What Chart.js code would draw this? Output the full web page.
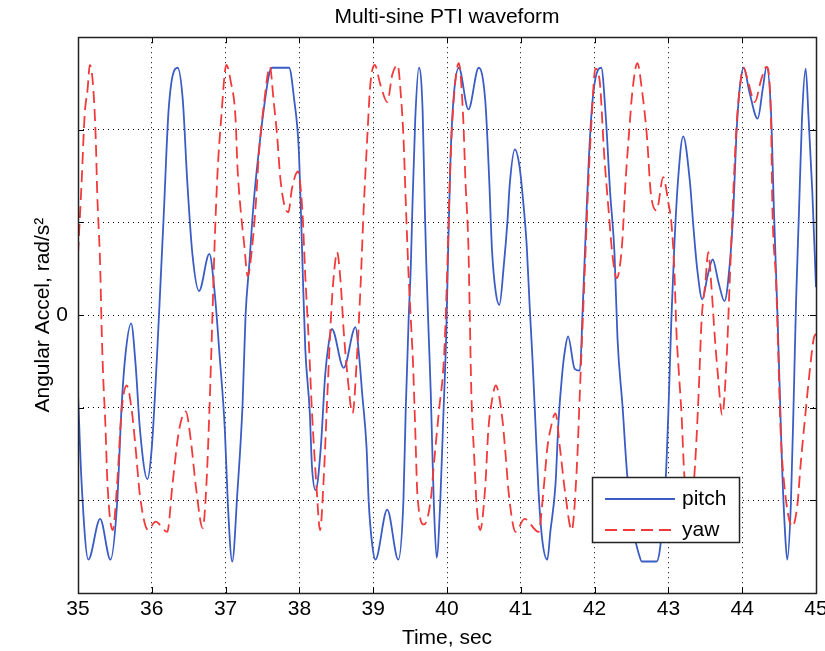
<!DOCTYPE html>
<html>
<head>
<meta charset="utf-8">
<script src="https://cdn.jsdelivr.net/npm/chart.js@4/dist/chart.umd.min.js"></script>
<style>
html,body{margin:0;padding:0;background:#fff;}
#c{display:block;}
</style>
</head>
<body>
<canvas id="c" width="825" height="651"></canvas>
<script>
// ---- data ----
const pitchT = [35.00,35.05,35.14,35.30,35.44,35.53,35.59,35.64,35.72,35.78,35.84,35.94,36.00,36.07,36.12,36.16,36.23,36.35,36.42,36.48,36.55,36.64,36.78,36.85,36.92,36.99,37.03,37.09,37.16,37.23,37.27,37.32,37.38,37.45,37.52,37.59,37.63,37.86,37.93,37.99,38.02,38.05,38.08,38.14,38.17,38.22,38.29,38.35,38.40,38.44,38.60,38.76,38.81,38.85,38.91,38.94,38.99,39.03,39.19,39.34,39.41,39.44,39.48,39.51,39.53,39.57,39.62,39.67,39.70,39.72,39.75,39.78,39.80,39.82,39.86,39.91,39.95,39.99,40.02,40.05,40.09,40.16,40.29,40.43,40.52,40.57,40.61,40.66,40.71,40.77,40.82,40.85,40.92,40.98,41.03,41.08,41.12,41.16,41.20,41.24,41.29,41.36,41.40,41.47,41.51,41.56,41.60,41.64,41.73,41.80,41.84,41.88,41.92,41.96,42.01,42.09,42.15,42.21,42.27,42.31,42.38,42.44,42.53,42.60,42.64,42.84,42.89,42.96,43.00,43.04,43.08,43.13,43.20,43.29,43.34,43.39,43.46,43.53,43.60,43.68,43.76,43.83,43.88,43.92,43.96,44.02,44.10,44.21,44.28,44.33,44.39,44.43,44.48,44.51,44.54,44.58,44.61,44.66,44.70,44.73,44.77,44.81,44.86,44.90,44.95,45.00];
const pitchV = [-0.85,-1.83,-2.64,-2.20,-2.64,-2.03,-1.00,-0.45,-0.09,-0.53,-1.24,-1.77,-1.43,-0.45,0.38,1.05,2.24,2.67,2.32,1.45,0.66,0.26,0.66,0.26,-0.45,-1.24,-2.03,-2.66,-1.91,-0.96,-0.01,0.54,1.21,1.77,2.24,2.60,2.67,2.67,2.32,1.81,1.13,0.34,-0.37,-1.04,-1.63,-1.89,-1.43,-0.64,-0.29,-0.15,-0.57,-0.13,-0.45,-0.84,-1.43,-2.03,-2.50,-2.64,-2.10,-2.64,-1.99,-1.04,-0.05,0.54,1.13,2.12,2.67,2.20,1.13,0.54,-0.17,-0.84,-1.43,-1.99,-2.62,-1.99,-1.10,-0.20,0.85,1.75,2.35,2.67,2.22,2.67,2.30,1.50,0.70,0.25,0.11,0.54,1.02,1.41,1.79,1.62,1.25,0.75,0.10,-0.50,-1.20,-1.90,-2.42,-2.64,-2.34,-1.83,-1.16,-0.64,-0.37,-0.23,-0.58,-0.60,0.10,0.90,1.65,2.20,2.55,2.67,2.16,1.33,0.66,-0.25,-1.00,-1.71,-2.34,-2.58,-2.66,-2.66,-2.50,-1.83,-1.04,-0.05,0.74,1.45,1.93,1.45,0.94,0.50,0.17,0.42,0.60,0.35,0.15,0.54,1.13,1.92,2.40,2.67,2.40,2.12,2.45,2.68,2.20,1.13,-0.05,-0.84,-1.63,-2.34,-2.64,-2.03,-0.84,0.15,1.13,2.12,2.66,2.12,1.33,0.30];

const yawT = [35.00,35.05,35.09,35.13,35.16,35.20,35.24,35.26,35.30,35.32,35.34,35.37,35.40,35.47,35.53,35.59,35.66,35.73,35.78,35.84,35.95,36.05,36.21,36.28,36.37,36.46,36.53,36.60,36.69,36.74,36.78,36.82,36.85,36.89,36.94,37.01,37.07,37.135,37.16,37.20,37.25,37.30,37.36,37.41,37.45,37.52,37.60,37.65,37.70,37.74,37.79,37.85,37.90,37.98,38.04,38.08,38.13,38.17,38.23,38.28,38.33,38.38,38.44,38.48,38.51,38.56,38.60,38.65,38.72,38.78,38.83,38.87,38.92,38.96,39.02,39.10,39.19,39.26,39.33,39.38,39.41,39.44,39.46,39.48,39.51,39.54,39.57,39.60,39.69,39.78,39.82,39.89,39.96,40.00,40.04,40.08,40.16,40.22,40.25,40.29,40.31,40.33,40.37,40.40,40.45,40.52,40.56,40.61,40.66,40.75,40.79,40.84,40.93,41.05,41.24,41.31,41.36,41.40,41.47,41.53,41.60,41.69,41.76,41.80,41.84,41.87,41.91,41.96,42.01,42.07,42.13,42.19,42.24,42.30,42.37,42.42,42.47,42.51,42.58,42.64,42.71,42.76,42.84,42.93,43.00,43.04,43.08,43.11,43.14,43.18,43.21,43.28,43.36,43.41,43.45,43.50,43.54,43.58,43.63,43.67,43.73,43.79,43.83,43.88,43.92,43.96,44.02,44.08,44.17,44.26,44.33,44.39,44.41,44.46,44.49,44.52,44.57,44.68,44.75,44.79,44.86,44.91,44.97,45.00];
const yawV = [0.66,1.45,2.16,2.44,2.70,2.52,1.92,1.33,0.54,-0.13,-0.64,-1.16,-1.83,-2.32,-1.83,-1.04,-0.76,-1.04,-1.43,-1.95,-2.32,-2.23,-2.34,-1.83,-1.24,-1.04,-1.36,-1.87,-2.30,-1.83,-1.04,-0.05,0.74,1.53,2.12,2.70,2.52,2.12,1.61,1.17,0.78,0.42,0.74,1.21,1.73,2.28,2.68,2.32,1.92,1.49,1.21,1.11,1.37,1.55,1.13,0.42,-0.33,-1.04,-1.83,-2.32,-1.75,-0.84,0.15,0.54,0.68,0.34,-0.17,-0.64,-1.06,-0.45,0.34,1.13,1.92,2.48,2.70,2.48,2.30,2.60,2.70,2.32,1.92,1.25,0.82,0.42,-0.05,-0.53,-1.24,-1.95,-2.26,-1.99,-1.63,-1.04,-0.45,0.40,1.50,2.20,2.72,2.12,1.45,0.74,-0.05,-0.84,-1.55,-2.03,-2.32,-1.83,-1.24,-0.92,-0.76,-1.12,-1.47,-1.95,-2.34,-2.20,-2.34,-1.87,-1.43,-1.24,-1.06,-1.43,-1.91,-2.32,-1.63,-0.84,-0.05,0.54,1.33,2.12,2.66,2.52,1.73,1.13,0.66,0.40,0.74,1.45,2.00,2.40,2.72,2.44,1.92,1.33,1.13,1.49,1.21,1.00,0.50,-0.20,-0.60,-1.10,-1.65,-2.30,-1.63,-0.84,-0.05,0.34,0.68,0.34,-0.25,-0.64,-1.08,-0.45,0.34,1.33,2.00,2.40,2.67,2.52,2.30,2.55,2.68,2.12,1.13,0.34,-0.45,-1.24,-1.83,-2.28,-2.03,-1.63,-1.04,-0.64,-0.25,-0.20];

const xTicks = [35,36,37,38,39,40,41,42,43,44,45];
const yTicks = [-3,-2,-1,0,1,2,3];
const yTickLabel = v => (v === 0 ? '0' : '');

const seriesNames = ['pitch','yaw'];
const titleText = 'Multi-sine PTI waveform';
const xTitle = 'Time, sec';
const yTitle = 'Angular Accel, rad/s\u00B2';

// ---- styling ----
const FAMILY = "'Liberation Sans', Arial, Helvetica, sans-serif";
const BLUE = '#3b5cc4';
const RED = '#f23a3a';

const toXY = (T, V) => T.map((t, i) => ({x: t, y: V[i]}));

const framePlugin = {
  id: 'frame',
  afterDatasetsDraw(chart) {
    const {ctx, chartArea: a, scales: {x, y}} = chart;
    ctx.save();
    // inward tick marks on all four sides
    ctx.strokeStyle = '#000';
    ctx.lineWidth = 1;
    ctx.beginPath();
    xTicks.forEach(v => {
      const px = Math.round(x.getPixelForValue(v)) + 0.5;
      ctx.moveTo(px, a.bottom); ctx.lineTo(px, a.bottom - 6);
      ctx.moveTo(px, a.top); ctx.lineTo(px, a.top + 6);
    });
    yTicks.forEach(v => {
      const py = Math.round(y.getPixelForValue(v)) + 0.5;
      ctx.moveTo(a.left, py); ctx.lineTo(a.left + 6, py);
      ctx.moveTo(a.right, py); ctx.lineTo(a.right - 6, py);
    });
    ctx.stroke();
    // axes box
    ctx.strokeStyle = '#222';
    ctx.lineWidth = 1.5;
    ctx.strokeRect(Math.round(a.left) + 0.5, Math.round(a.top) + 0.5,
                   Math.round(a.right - a.left), Math.round(a.bottom - a.top));
    // legend box (inside axes, lower right)
    const lx = a.right - 224, ly = a.bottom - 116, lw = 147, lh = 65;
    ctx.fillStyle = '#fff';
    ctx.fillRect(lx, ly, lw, lh);
    ctx.strokeStyle = '#222';
    ctx.lineWidth = 1.5;
    ctx.strokeRect(lx + 0.5, ly + 0.5, lw, lh);
    chart.data.datasets.forEach((ds, i) => {
      const ry = ly + 22 + i * 31;
      ctx.beginPath();
      ctx.strokeStyle = ds.borderColor;
      ctx.lineWidth = ds.borderWidth;
      ctx.setLineDash(ds.borderDash || []);
      ctx.moveTo(lx + 13, ry); ctx.lineTo(lx + 83, ry);
      ctx.stroke();
      ctx.setLineDash([]);
      ctx.fillStyle = '#000';
      ctx.font = '21px ' + FAMILY;
      ctx.textBaseline = 'middle';
      ctx.textAlign = 'left';
      ctx.fillText(ds.label, lx + 90, ry);
    });
    ctx.restore();
  }
};

new Chart(document.getElementById('c'), {
  type: 'line',
  data: {
    datasets: [
      {label: seriesNames[0], data: toXY(pitchT, pitchV), borderColor: BLUE, borderWidth: 1.8,
       pointRadius: 0, fill: false, cubicInterpolationMode: 'monotone', order: 1},
      {label: seriesNames[1], data: toXY(yawT, yawV), borderColor: RED, borderWidth: 1.8,
       borderDash: [12, 6], pointRadius: 0, fill: false, cubicInterpolationMode: 'monotone', order: 0}
    ]
  },
  options: {
    responsive: false,
    animation: false,
    devicePixelRatio: 1,
    layout: {padding: {left: 0, right: 9, top: 0, bottom: 0}},
    plugins: {
      legend: {display: false},
      tooltip: {enabled: false},
      title: {display: true, text: titleText, color: '#000', fullSize: false,
              font: {family: FAMILY, size: 21, weight: 'normal'}, padding: {top: 5, bottom: 7}}
    },
    scales: {
      x: {
        type: 'linear', min: 35, max: 45,
        afterBuildTicks: s => { s.ticks = xTicks.map(v => ({value: v})); },
        afterFit: s => { s.height = 58; s.paddingLeft = 0; s.paddingRight = 0; },
        ticks: {color: '#000', font: {family: FAMILY, size: 21}, padding: 4, maxRotation: 0, autoSkip: false,
                callback: v => String(v)},
        grid: {color: '#000', lineWidth: 1, drawTicks: false},
        border: {display: false, dash: [1, 4]},
        title: {display: true, text: xTitle, color: '#000', font: {family: FAMILY, size: 21},
                padding: {top: 0, bottom: 0}}
      },
      y: {
        type: 'linear', min: -3, max: 3,
        afterBuildTicks: s => { s.ticks = yTicks.map(v => ({value: v})); },
        afterFit: s => { s.width = 78; s.paddingTop = 0; s.paddingBottom = 0; },
        ticks: {color: '#000', font: {family: FAMILY, size: 21}, padding: 10, autoSkip: false,
                callback: v => yTickLabel(v)},
        grid: {color: '#000', lineWidth: 1, drawTicks: false},
        border: {display: false, dash: [1, 4]},
        title: {display: true, text: yTitle, color: '#000', font: {family: FAMILY, size: 21},
                padding: {top: 31, bottom: 0}}
      }
    }
  },
  plugins: [framePlugin]
});
</script>
</body>
</html>
